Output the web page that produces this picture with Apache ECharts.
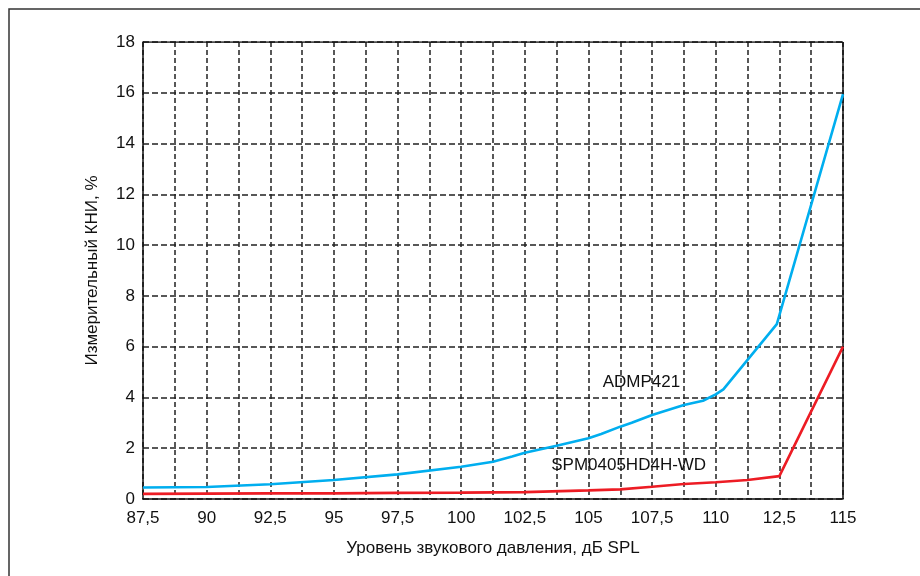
<!DOCTYPE html>
<html>
<head>
<meta charset="utf-8">
<script src="https://cdn.jsdelivr.net/npm/echarts@6/dist/echarts.min.js"></script>
<style>
  html, body { margin: 0; padding: 0; background: #fff; }
  #chart { width: 920px; height: 576px; }
</style>
</head>
<body>
<div id="chart"></div>
<script>
// ADMP421 curve, [dB SPL, THD %]
const admpData = [
  [87.5, 0.45], [90, 0.47], [92.5, 0.58], [95, 0.75], [97.5, 0.97],
  [100, 1.27], [101.25, 1.47], [102, 1.67], [102.5, 1.82], [103.75, 2.1],
  [105, 2.39], [105.5, 2.56], [106.25, 2.85], [106.7, 3.0], [107.5, 3.31],
  [108.75, 3.7], [109.5, 3.87], [110, 4.12], [110.3, 4.32], [112.4, 6.89],
  [115, 15.95]
];
// SPM0405HD4H-WD curve
const spmData = [
  [87.5, 0.2], [90, 0.21], [92.5, 0.22], [95, 0.22], [97.5, 0.24],
  [100, 0.25], [102.5, 0.27], [105, 0.34], [106.25, 0.38], [107.5, 0.48],
  [108.75, 0.59], [110, 0.66], [111.25, 0.75], [112.5, 0.9], [115, 6.0]
];
const seriesNames = ['ADMP421', 'SPM0405HD4H-WD'];
// x tick labels (112.5 is printed as "12,5" in the source)
const xLabels = {
  87.5: '87,5', 90: '90', 92.5: '92,5', 95: '95', 97.5: '97,5', 100: '100',
  102.5: '102,5', 105: '105', 107.5: '107,5', 110: '110', 112.5: '12,5', 115: '115'
};
const labelCoords = [[107.08, 4.58], [106.58, 1.31]];

const font = 'Liberation Sans, Arial, sans-serif';
const chart = echarts.init(document.getElementById('chart'));

function annotation(name, coord) {
  return {
    silent: true,
    symbol: 'circle',
    symbolSize: 0,
    data: [{
      coord: coord,
      label: {
        show: true,
        formatter: name,
        position: 'inside',
        color: '#111',
        fontSize: 17,
        fontFamily: font
      }
    }]
  };
}

chart.setOption({
  animation: false,
  backgroundColor: '#fff',
  graphic: [{
    type: 'rect',
    shape: { x: 9, y: 9, width: 1000, height: 1000 },
    style: { fill: 'none', stroke: '#333', lineWidth: 1.5 },
    silent: true
  }],
  grid: { left: 143, top: 42, right: 77, bottom: 77 },
  xAxis: {
    type: 'value',
    min: 87.5,
    max: 115,
    interval: 1.25,
    name: 'Уровень звукового давления, дБ SPL',
    nameLocation: 'middle',
    nameGap: 41,
    nameTextStyle: { color: '#111', fontSize: 17, fontFamily: font },
    axisLine: { show: true, lineStyle: { color: '#111', width: 1.5 } },
    axisTick: { show: false },
    axisLabel: {
      color: '#111',
      fontSize: 17,
      fontFamily: font,
      margin: 11,
      formatter: v => xLabels[v] || ''
    },
    splitLine: { show: true, lineStyle: { color: '#222', type: [5, 3], width: 1.5 } }
  },
  yAxis: {
    type: 'value',
    min: 0,
    max: 18,
    interval: 2,
    name: 'Измерительный КНИ, %',
    nameLocation: 'middle',
    nameGap: 42,
    nameTextStyle: { color: '#111', fontSize: 17, fontFamily: font },
    axisLine: { show: true, lineStyle: { color: '#111', width: 1.5 } },
    axisTick: { show: false },
    axisLabel: { color: '#111', fontSize: 17, fontFamily: font, margin: 8, padding: [4, 0, 0, 0] },
    splitLine: { show: true, lineStyle: { color: '#222', type: [6, 3], width: 1.5 } }
  },
  series: [{
    name: seriesNames[0],
    type: 'line',
    data: admpData,
    showSymbol: false,
    lineStyle: { color: '#00aeef', width: 2.6 },
    itemStyle: { color: '#00aeef' },
    z: 3,
    markPoint: annotation(seriesNames[0], labelCoords[0])
  }, {
    name: seriesNames[1],
    type: 'line',
    data: spmData,
    showSymbol: false,
    lineStyle: { color: '#ed1c24', width: 2.6 },
    itemStyle: { color: '#ed1c24' },
    z: 3,
    markPoint: annotation(seriesNames[1], labelCoords[1])
  }, {
    // right frame line of the plot area
    type: 'line',
    data: [[115, 0], [115, 18]],
    showSymbol: false,
    silent: true,
    lineStyle: { color: '#111', width: 1.5 },
    z: 1
  }, {
    // top frame line of the plot area
    type: 'line',
    data: [[87.5, 18], [115, 18]],
    showSymbol: false,
    silent: true,
    lineStyle: { color: '#111', width: 1.5 },
    z: 1
  }]
});
</script>
</body>
</html>
